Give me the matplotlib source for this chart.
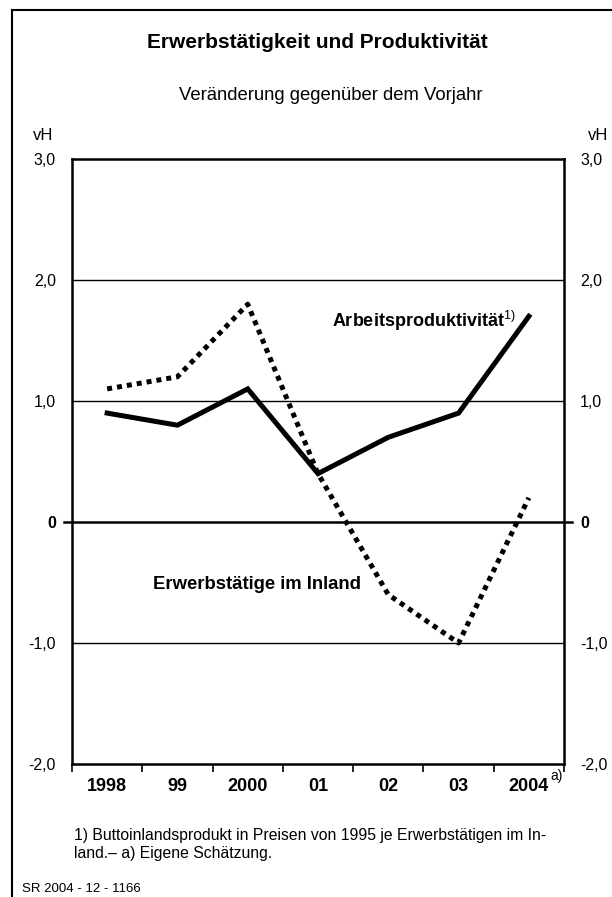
import numpy as np
import matplotlib
matplotlib.use('Agg')
import matplotlib.pyplot as plt

plt.rcParams['font.family'] = ['Liberation Sans', 'DejaVu Sans']
plt.rcParams['mathtext.fontset'] = 'custom'
plt.rcParams['mathtext.rm'] = 'Liberation Sans'

# data (vH, Veränderung gegenüber dem Vorjahr)
years = ['1998', '99', '2000', '01', '02', '03', '2004']
produktivitaet = [0.9, 0.8, 1.1, 0.4, 0.7, 0.9, 1.7]
erwerbstaetige = [1.1, 1.2, 1.8, 0.4, -0.6, -1.0, 0.2]
yticks = [-2, -1, 0, 1, 2, 3]
ylabels = ['-2,0', '-1,0', '0', '1,0', '2,0', '3,0']

W, H = 612, 897
fig = plt.figure(figsize=(W / 100, H / 100), dpi=100)
ax = fig.add_axes([72/W, 1-764/H, 492/W, 605/H])

x = np.arange(len(years))
ax.plot(x, produktivitaet, color='black', lw=3.6, solid_joinstyle='miter')
ax.plot(x, erwerbstaetige, color='black', lw=3.6, linestyle=(0, (1, 1)),
        dash_capstyle='butt')

for v in [-1, 1, 2]:
    ax.axhline(v, color='black', lw=1.0, zorder=0)
ax.axhline(0, xmin=-0.016, xmax=1.016, color='black', lw=1.8, clip_on=False, zorder=1)

ax.set_xlim(-0.5, len(years) - 0.5)
ax.set_ylim(-2, 3)
for s in ax.spines.values():
    s.set_linewidth(1.8)

ax.set_xticks(x)
ax.set_xticklabels(years, fontsize=13, fontweight='bold')
ax.set_xticks(np.arange(len(years) + 1) - 0.5, minor=True)
ax.tick_params(axis='x', which='major', length=0, pad=10)
ax.tick_params(axis='x', which='minor', length=5.5, width=1.2, direction='out')
# footnote mark on last year
ax.text(6.3, -0.02, 'a)', transform=ax.get_xaxis_transform(), fontsize=10,
        ha='left', va='center')

ax.set_yticks(yticks)
ax.set_yticklabels(ylabels)
ax.tick_params(axis='y', length=0, labelsize=11.5, labelright=True, pad=11.5)
for t, lab in zip(ax.yaxis.get_major_ticks(), ylabels):
    t.label2.set_horizontalalignment('left')
    if lab == '0':
        t.label1.set_fontweight('bold')
        t.label2.set_fontweight('bold')

fig.text(33/W, 1-135/H, 'vH', fontsize=12, ha='left', va='center')
fig.text(588/W, 1-135/H, 'vH', fontsize=12, ha='left', va='center')

ax.text(3.2, 1.66, 'Arbeitsproduktivität$^{\\mathrm{1)}}$', fontsize=13,
        fontweight='bold', ha='left', va='center')
ax.text(0.65, -0.52, 'Erwerbstätige im Inland', fontsize=13.3,
        fontweight='bold', ha='left', va='center')

fig.text(317/W, 1-43/H, 'Erwerbstätigkeit und Produktivität', fontsize=15,
         fontweight='bold', ha='center', va='center')
fig.text(331/W, 1-96/H, 'Veränderung gegenüber dem Vorjahr', fontsize=13.3,
         ha='center', va='center')
fig.text(74/W, 1-835/H, '1) Buttoinlandsprodukt in Preisen von 1995 je Erwerbstätigen im In-',
         fontsize=11.3, ha='left', va='center')
fig.text(74/W, 1-853/H, 'land.– a) Eigene Schätzung.', fontsize=11.3, ha='left', va='center')
fig.text(22/W, 1-889/H, 'SR 2004 - 12 - 1166', fontsize=9.5, ha='left', va='center')

# outer frame (left and top only visible)
fig.add_artist(plt.Line2D([12/W, 12/W], [0, 1-10/H], color='black', lw=1.5))
fig.add_artist(plt.Line2D([12/W, 1], [1-10/H, 1-10/H], color='black', lw=1.5))

fig.savefig('out.png', dpi=100)
